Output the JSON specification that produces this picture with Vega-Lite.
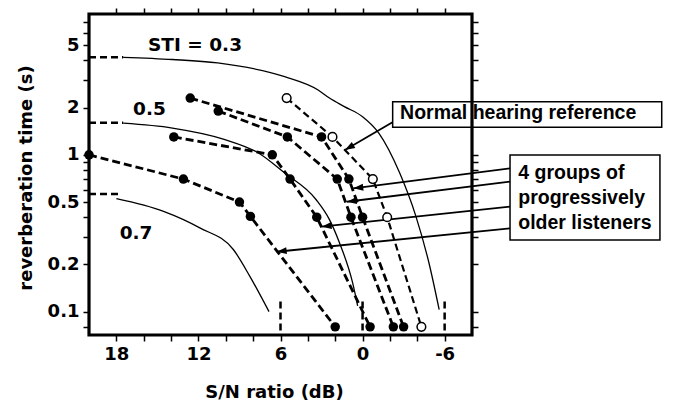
{
  "$schema": "https://vega.github.io/schema/vega-lite/v6.json",
  "width": 383,
  "height": 321,
  "autosize": {"type": "none"},
  "padding": {"left": 89, "top": 14, "right": 201, "bottom": 68},
  "background": "white",
  "config": {
    "view": {"stroke": null, "fill": null},
    "axis": {
      "domain": false, "grid": false, "ticks": true, "tickSize": 6, "tickWidth": 1.5, "tickColor": "black", "tickOpacity": 1,
      "labelFont": "DejaVu Sans", "labelFontWeight": "bold", "labelFontSize": 18, "labelColor": "black",
      "labelPadding": 4, "labelOverlap": false, "labelFlush": false, "labelBound": false,
      "titleFont": "DejaVu Sans", "titleFontWeight": "bold", "titleFontSize": 18, "titleColor": "black"
    }
  },
  "datasets": {
    "pts": [
      {"g": "A", "x": 20, "y": 1.0}, {"g": "A", "x": 13.1, "y": 0.7}, {"g": "A", "x": 9.0, "y": 0.5}, {"g": "A", "x": 8.2, "y": 0.405}, {"g": "A", "x": 2.0, "y": 0.08},
      {"g": "B", "x": 13.8, "y": 1.3}, {"g": "B", "x": 6.6, "y": 1.0}, {"g": "B", "x": 5.3, "y": 0.7}, {"g": "B", "x": 3.35, "y": 0.4}, {"g": "B", "x": -0.55, "y": 0.08},
      {"g": "C", "x": 12.6, "y": 2.3}, {"g": "C", "x": 3.0, "y": 1.3}, {"g": "C", "x": 1.0, "y": 0.7}, {"g": "C", "x": 0.0, "y": 0.4}, {"g": "C", "x": -3.0, "y": 0.08},
      {"g": "D", "x": 10.55, "y": 1.9}, {"g": "D", "x": 5.5, "y": 1.3}, {"g": "D", "x": 1.85, "y": 0.7}, {"g": "D", "x": 0.85, "y": 0.4}, {"g": "D", "x": -2.25, "y": 0.08},
      {"g": "N", "x": 5.55, "y": 2.3}, {"g": "N", "x": 2.2, "y": 1.3}, {"g": "N", "x": -0.75, "y": 0.7}, {"g": "N", "x": -1.8, "y": 0.4}, {"g": "N", "x": -4.3, "y": 0.08}
    ],
    "cur": [
      {"s": "0.3", "x": 17.5, "y": 4.18}, {"s": "0.3", "x": 13.9, "y": 4.05}, {"s": "0.3", "x": 10.6, "y": 3.85}, {"s": "0.3", "x": 5.7, "y": 3.15}, {"s": "0.3", "x": 3.25, "y": 2.59}, {"s": "0.3", "x": 2.42, "y": 2.3}, {"s": "0.3", "x": 1.33, "y": 2.03}, {"s": "0.3", "x": 0, "y": 1.75}, {"s": "0.3", "x": -1.2, "y": 1.37}, {"s": "0.3", "x": -2.7, "y": 0.77}, {"s": "0.3", "x": -3.9, "y": 0.405}, {"s": "0.3", "x": -4.85, "y": 0.205}, {"s": "0.3", "x": -5.6, "y": 0.103},
      {"s": "0.5", "x": 17.5, "y": 1.59}, {"s": "0.5", "x": 13.9, "y": 1.48}, {"s": "0.5", "x": 10.06, "y": 1.25}, {"s": "0.5", "x": 7.64, "y": 1.03}, {"s": "0.5", "x": 5.69, "y": 0.765}, {"s": "0.5", "x": 3.39, "y": 0.517}, {"s": "0.5", "x": 2.42, "y": 0.386}, {"s": "0.5", "x": 1.69, "y": 0.275}, {"s": "0.5", "x": 0.73, "y": 0.153}, {"s": "0.5", "x": 0.36, "y": 0.109},
      {"s": "0.7", "x": 18.0, "y": 0.525}, {"s": "0.7", "x": 14.55, "y": 0.436}, {"s": "0.7", "x": 11.9, "y": 0.342}, {"s": "0.7", "x": 9.45, "y": 0.249}, {"s": "0.7", "x": 8.24, "y": 0.168}, {"s": "0.7", "x": 6.84, "y": 0.1}
    ],
    "hseg": [
      {"s": "0.3", "x": 20, "x2": 17.5, "y": 4.18},
      {"s": "0.5", "x": 20, "x2": 17.5, "y": 1.6},
      {"s": "0.7", "x": 20, "x2": 17.6, "y": 0.563}
    ],
    "vseg": [
      {"s": "0.3", "x": -6, "y": 0.116, "y2": 0.071},
      {"s": "0.5", "x": 0, "y": 0.116, "y2": 0.071},
      {"s": "0.7", "x": 6, "y": 0.116, "y2": 0.071}
    ],
    "stil": [
      {"t": "STI = 0.3", "x": 12.25, "y": 5.0},
      {"t": "0.5", "x": 15.58, "y": 1.95},
      {"t": "0.7", "x": 16.56, "y": 0.316}
    ],
    "arrows": [
      {"a": "N", "x": -2.25, "y": 1.626, "x2": 1.29, "y2": 1.073},
      {"a": "1", "x": -10.78, "y": 0.82, "x2": 0.68, "y2": 0.611},
      {"a": "2", "x": -10.78, "y": 0.674, "x2": 1.16, "y2": 0.502},
      {"a": "3", "x": -10.78, "y": 0.467, "x2": 2.99, "y2": 0.348},
      {"a": "4", "x": -10.78, "y": 0.34, "x2": 6.28, "y2": 0.241}
    ],
    "heads": [
      {"a": "N", "x": 1.29, "y": 1.073},
      {"a": "1", "x": 0.68, "y": 0.611},
      {"a": "2", "x": 1.16, "y": 0.502},
      {"a": "3", "x": 2.99, "y": 0.348},
      {"a": "4", "x": 6.28, "y": 0.241}
    ],
    "boxes": [
      {"b": "N", "x": -2.2, "x2": -21.87, "y": 2.18, "y2": 1.497},
      {"b": "G", "x": -10.78, "x2": -21.74, "y": 0.997, "y2": 0.286}
    ],
    "btext": [
      {"t": "Normal hearing reference", "x": -2.74, "y": 1.84},
      {"t": "4 groups of", "x": -11.38, "y": 0.762},
      {"t": "progressively", "x": -11.38, "y": 0.528},
      {"t": "older listeners", "x": -11.38, "y": 0.366}
    ],
    "frame": [
      {"x": 20, "x2": -8, "y": 7.9, "y2": 0.071}
    ]
  },
  "encoding": {
    "x": {"field": "x", "type": "quantitative", "scale": {"domain": [-8, 20], "reverse": true, "nice": false, "zero": false}, "axis": null},
    "y": {"field": "y", "type": "quantitative", "scale": {"type": "log", "domain": [0.071, 7.9], "nice": false}, "axis": null}
  },
  "layer": [
    {
      "data": {"name": "cur"},
      "mark": {"type": "line", "color": "black", "strokeWidth": 1.3, "interpolate": "monotone"},
      "encoding": {
        "detail": {"field": "s"},
        "x": {"field": "x", "type": "quantitative", "scale": {"domain": [-8, 20], "reverse": true, "nice": false, "zero": false},
          "axis": {"orient": "top", "values": [-6, -4, -2, 0, 2, 4, 6, 8, 10, 12, 14, 16, 18], "labels": false, "title": null, "ticks": true}},
        "y": {"field": "y", "type": "quantitative", "scale": {"type": "log", "domain": [0.071, 7.9], "nice": false},
          "axis": {"orient": "right", "values": [0.08, 0.1, 0.2, 0.3, 0.4, 0.5, 0.6, 0.7, 0.8, 0.9, 1, 2, 3, 4, 5, 6, 7], "labels": false, "title": null, "ticks": true}}
      }
    },
    {
      "data": {"name": "hseg"},
      "mark": {"type": "rule", "color": "black", "strokeWidth": 2.5, "strokeDash": [7, 4]},
      "encoding": {"x2": {"field": "x2"}}
    },
    {
      "data": {"name": "vseg"},
      "mark": {"type": "rule", "color": "black", "strokeWidth": 2.5, "strokeDash": [7, 4]},
      "encoding": {"y2": {"field": "y2"}}
    },
    {
      "data": {"name": "pts"},
      "transform": [{"filter": "datum.g != 'N'"}],
      "mark": {"type": "line", "color": "black", "strokeWidth": 2.8, "strokeDash": [8, 4]},
      "encoding": {"detail": {"field": "g"}}
    },
    {
      "data": {"name": "pts"},
      "transform": [{"filter": "datum.g == 'N'"}],
      "mark": {"type": "line", "color": "black", "strokeWidth": 2.2, "strokeDash": [7, 4]},
      "encoding": {"detail": {"field": "g"}}
    },
    {
      "data": {"name": "arrows"},
      "mark": {"type": "rule", "color": "black", "strokeWidth": 1.8},
      "encoding": {"x2": {"field": "x2"}, "y2": {"field": "y2"}}
    },
    {
      "data": {"name": "heads"},
      "transform": [{"filter": "datum.a == 'N'"}],
      "mark": {"type": "point", "shape": "M0,0L0.35,1L-0.35,1Z", "filled": true, "color": "black", "opacity": 1, "size": 400, "angle": 239.6},
      "encoding": {}
    },
    {
      "data": {"name": "heads"},
      "transform": [{"filter": "datum.a != 'N'"}],
      "mark": {"type": "point", "shape": "M0,0L0.35,1L-0.35,1Z", "filled": true, "color": "black", "opacity": 1, "size": 400, "angle": 263.5},
      "encoding": {}
    },
    {
      "data": {"name": "boxes"},
      "mark": {"type": "rect", "fill": "white", "stroke": "black", "strokeWidth": 1.5},
      "encoding": {"x2": {"field": "x2"}, "y2": {"field": "y2"}}
    },
    {
      "data": {"name": "pts"},
      "transform": [{"filter": "datum.g != 'N'"}],
      "mark": {"type": "point", "shape": "circle", "filled": true, "color": "black", "opacity": 1, "size": 90},
      "encoding": {
        "x": {"field": "x", "type": "quantitative", "scale": {"domain": [-8, 20], "reverse": true, "nice": false, "zero": false},
          "axis": {"orient": "bottom", "values": [-6, -4, -2, 0, 2, 4, 6, 8, 10, 12, 14, 16, 18], "ticks": true,
            "labelExpr": "datum.value % 6 == 0 ? '' + datum.value : ''",
            "title": "S/N ratio (dB)", "titleX": 185, "titleY": 62, "titleAlign": "center", "titleBaseline": "alphabetic"}},
        "y": {"field": "y", "type": "quantitative", "scale": {"type": "log", "domain": [0.071, 7.9], "nice": false},
          "axis": {"orient": "left", "values": [0.08, 0.1, 0.2, 0.3, 0.4, 0.5, 0.6, 0.7, 0.8, 0.9, 1, 2, 3, 4, 5, 6, 7], "ticks": true,
            "labelExpr": "indexof([0.1, 0.2, 0.5, 1, 2, 5], datum.value) >= 0 ? '' + datum.value : ''",
            "title": "reverberation time (s)", "titleX": -58, "titleY": 163.5, "titleAngle": 270, "titleAlign": "center", "titleBaseline": "alphabetic"}}
      }
    },
    {
      "data": {"name": "pts"},
      "transform": [{"filter": "datum.g == 'N'"}],
      "mark": {"type": "point", "shape": "circle", "filled": false, "fill": "white", "stroke": "black", "strokeWidth": 1.5, "opacity": 1, "size": 75},
      "encoding": {}
    },
    {
      "data": {"name": "stil"},
      "mark": {"type": "text", "font": "DejaVu Sans", "fontWeight": "bold", "fontSize": 18.5, "color": "black", "align": "center", "baseline": "middle"},
      "encoding": {"text": {"field": "t"}}
    },
    {
      "data": {"name": "btext"},
      "mark": {"type": "text", "font": "Liberation Sans", "fontWeight": "bold", "fontSize": 19.5, "color": "black", "align": "left", "baseline": "middle"},
      "encoding": {"text": {"field": "t"}}
    },
    {
      "data": {"name": "frame"},
      "mark": {"type": "rect", "fill": null, "filled": false, "stroke": "black", "strokeWidth": 3.2},
      "encoding": {"x2": {"field": "x2"}, "y2": {"field": "y2"}}
    }
  ],
  "resolve": {"axis": {"x": "independent", "y": "independent"}}
}
